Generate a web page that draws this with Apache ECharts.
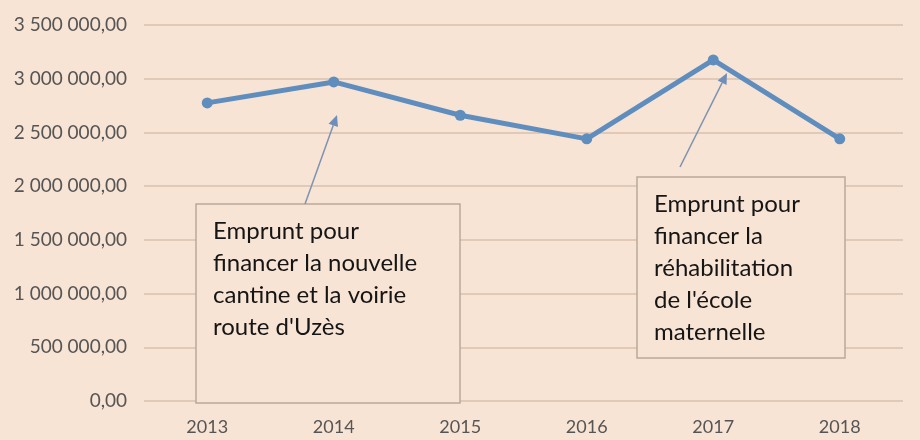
<!DOCTYPE html>
<html>
<head>
<meta charset="utf-8">
<script src="https://cdn.jsdelivr.net/npm/echarts@6/dist/echarts.min.js"></script>
<style>
html,body{margin:0;padding:0;background:#F8E4D4;}
#chart{width:920px;height:440px;}
</style>
</head>
<body>
<div id="chart"></div>
<script>
var years = ['2013', '2014', '2015', '2016', '2017', '2018'];
var values = [2775000, 2970000, 2660000, 2440000, 3175000, 2440000];
var note1 = ['Emprunt pour', 'financer la nouvelle', 'cantine et la voirie', "route d'Uzès"];
var note2 = ['Emprunt pour', 'financer la', 'réhabilitation', "de l'école", 'maternelle'];

function fmt(v) {
  var s = Math.round(v).toString().replace(/\B(?=(\d{3})+(?!\d))/g, ' ');
  return s + ',00';
}

var chart = echarts.init(document.getElementById('chart'));
var FONT = 'Lato';

function arrow(x1, y1, x2, y2) {
  var ang = Math.atan2(y2 - y1, x2 - x1);
  var L = 11, W = 5;
  var bx = x2 - L * Math.cos(ang), by = y2 - L * Math.sin(ang);
  var px = -Math.sin(ang), py = Math.cos(ang);
  return [
    { type: 'line', shape: { x1: x1, y1: y1, x2: bx, y2: by }, style: { stroke: '#7D93B0', lineWidth: 1.5 }, z: 10 },
    { type: 'polygon', shape: { points: [[x2, y2], [bx + px * W, by + py * W], [bx - px * W, by - py * W]] }, style: { fill: '#6F8FBA' }, z: 10 }
  ];
}

function box(x, y, w, h, lines) {
  var els = [{ type: 'rect', shape: { x: x, y: y, width: w, height: h }, style: { fill: '#F8E4D4', stroke: '#B9A999', lineWidth: 1.5 }, z: 9 }];
  els.push({ type: 'text', x: x + 17, y: y + 11, style: { text: lines.join('\n'), font: '24px ' + FONT, fill: '#151515', lineHeight: 32 }, z: 11 });
  return els;
}

var graphics = [].concat(
  box(196, 204, 264, 199, note1),
  box(637, 177, 208, 181, note2),
  arrow(305, 204, 337, 115),
  arrow(680, 167, 727, 73)
);

chart.setOption({
  backgroundColor: '#F8E4D4',
  animation: false,
  grid: { left: 144, right: 17, top: 25, bottom: 39 },
  xAxis: {
    type: 'category',
    data: years,
    boundaryGap: true,
    axisLine: { show: false },
    axisTick: { show: false },
    axisLabel: { color: '#555555', fontSize: 18, fontFamily: FONT, margin: 17 }
  },
  yAxis: {
    type: 'value',
    min: 0, max: 3500000, interval: 500000,
    axisLine: { show: false },
    axisTick: { show: false },
    splitLine: { lineStyle: { color: '#D9C2AE', width: 1.5 } },
    axisLabel: { color: '#555555', fontSize: 19, fontFamily: FONT, margin: 17, formatter: fmt }
  },
  series: [{
    type: 'line',
    data: values,
    symbol: 'circle',
    symbolSize: 11,
    lineStyle: { color: '#5F8EBE', width: 5 },
    itemStyle: { color: '#5F8EBE' },
    z: 5
  }],
  graphic: graphics
});
</script>
</body>
</html>
